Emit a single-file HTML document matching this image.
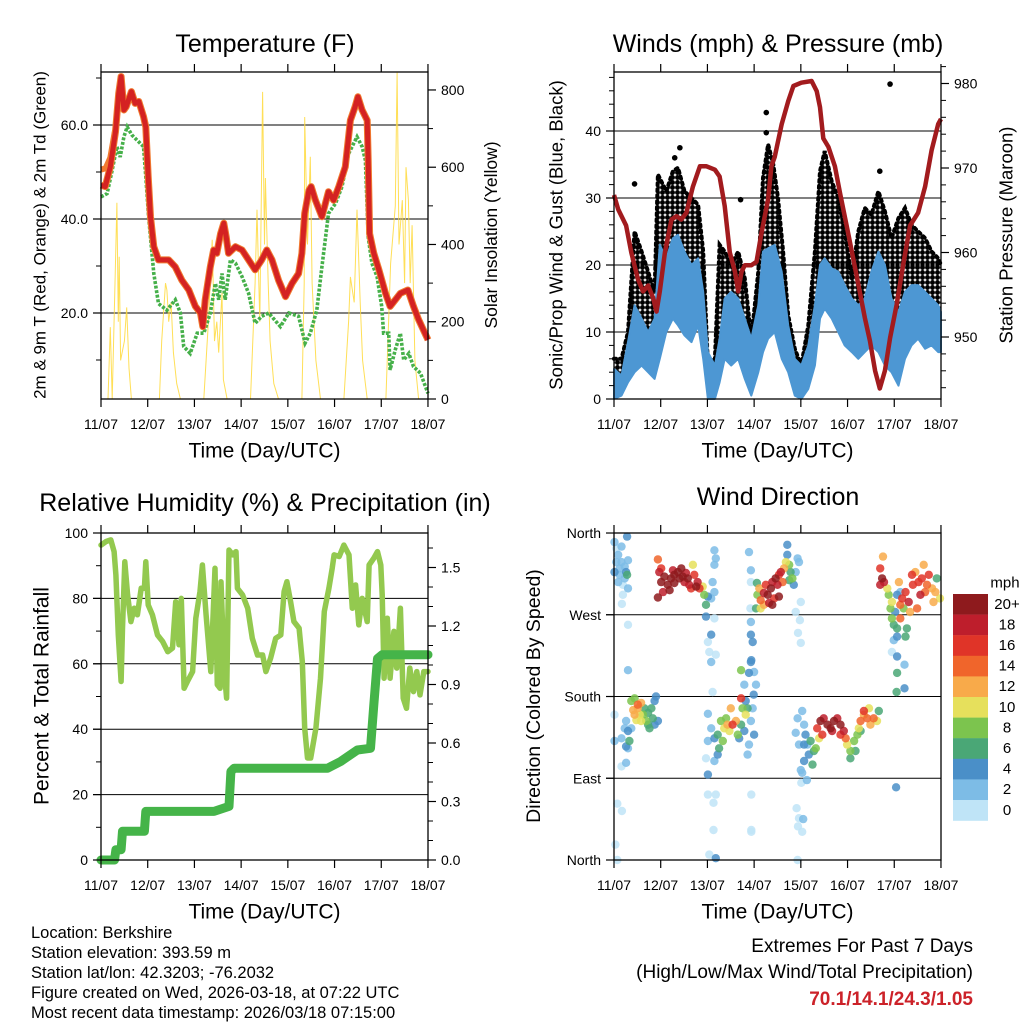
<!DOCTYPE html>
<html><head><meta charset="utf-8"><style>
html,body{margin:0;padding:0;background:#fff;}
svg{display:block;font-family:"Liberation Sans",Arial,sans-serif;}
</style></head><body>
<svg id="root" width="1024" height="1024" viewBox="0 0 1024 1024" xmlns="http://www.w3.org/2000/svg">
<defs>
<pattern id="gustdots" x="0" y="0" width="5" height="5" patternUnits="userSpaceOnUse">
<circle cx="2.5" cy="2.5" r="2.45" fill="#000"/>
</pattern>
</defs>
<g id="p1"></g>
<g id="p2"></g>
<g id="p3"></g>
<g id="p4"></g>
<g font-size="16.5" fill="#000">
<text x="31" y="938">Location: Berkshire</text>
<text x="31" y="958">Station elevation: 393.59 m</text>
<text x="31" y="978">Station lat/lon: 42.3203; -76.2032</text>
<text x="31" y="998">Figure created on Wed, 2026-03-18, at 07:22 UTC</text>
<text x="31" y="1018">Most recent data timestamp: 2026/03/18 07:15:00</text>
</g>
<g font-size="19" text-anchor="end">
<text x="973" y="952">Extremes For Past 7 Days</text>
<text x="973" y="978">(High/Low/Max Wind/Total Precipitation)</text>
<text x="973" y="1005" font-weight="bold" fill="#cc2229">70.1/14.1/24.3/1.05</text>
</g>
</svg>
<script>
// ---------- DATA ----------
const dayLabels = ["11/07","12/07","13/07","14/07","15/07","16/07","17/07","18/07"];
const tempTimes = [0,0.09,0.2,0.31,0.38,0.43,0.49,0.54,0.65,0.73,0.81,0.91,0.96,1.01,1.06,1.13,1.23,1.45,1.59,1.73,1.88,2.02,2.13,2.18,2.23,2.34,2.41,2.48,2.56,2.63,2.68,2.73,2.88,3.02,3.16,3.3,3.44,3.55,3.66,3.8,3.95,4.09,4.23,4.3,4.36,4.45,4.5,4.59,4.73,4.87,4.98,5.09,5.23,5.34,5.44,5.5,5.59,5.7,5.72,5.75,5.84,5.95,6.09,6.19,6.3,6.41,6.57,6.69,6.8,7.0];
const tempValues = [47.2,46.9,51.1,58.6,66.7,70.3,63.2,63.9,67.1,64.6,65.0,61.8,59.6,49.0,40.5,34.1,31.3,31.3,29.8,27.0,24.9,21.4,20.0,17.1,22.8,29.8,33.4,32.7,36.9,39.1,36.2,32.7,34.1,33.4,31.3,29.2,31.3,33.4,31.3,27.0,23.5,26.3,28.4,32.7,41.2,46.1,46.9,44.0,40.5,45.8,44.0,46.9,51.1,61.0,63.9,66.0,63.2,61.0,52.5,36.9,32.7,29.2,24.2,21.4,22.8,24.2,24.9,21.4,18.6,14.3];
const temp9Times = [0,0.1,0.2,0.3];
const temp9Values = [50.5,50.8,53,58.8];
const tdTimes = [0,0.13,0.24,0.34,0.41,0.49,0.56,0.66,0.81,0.91,0.96,1.02,1.13,1.23,1.41,1.59,1.7,1.77,1.91,2.06,2.2,2.34,2.45,2.52,2.59,2.66,2.77,2.88,3.02,3.16,3.3,3.44,3.59,3.84,4.02,4.23,4.37,4.48,4.62,4.73,4.87,5.02,5.16,5.3,5.48,5.59,5.66,5.72,5.8,5.91,6.01,6.05,6.16,6.19,6.3,6.41,6.48,6.59,6.69,6.84,7.0];
const tdValues = [44.7,45.4,50.4,55.4,53.2,57.5,59.6,57.9,56.4,55.4,49.0,40.5,28.4,22.0,20.6,22.8,20.0,12.9,11.4,15.7,15.7,20.0,26.3,22.8,28.4,22.8,31.3,30.6,27.7,24.2,17.8,19.3,20.0,17.1,20.0,19.3,13.6,15.7,20.6,29.8,41.2,43.3,46.9,53.9,57.5,55.4,52.5,36.2,30.6,27.7,21.4,15.7,15.7,7.9,12.2,15.7,10.0,11.4,8.6,7.2,2.9];
const solarTimes = [0,0.15,0.2,0.24,0.3,0.34,0.37,0.39,0.42,0.5,0.55,0.6,0.65,1.25,1.3,1.38,1.41,1.45,1.5,1.55,1.62,1.7,2.2,2.3,2.38,2.43,2.48,2.52,2.59,2.62,2.7,3.2,3.3,3.34,3.4,3.46,3.5,3.52,3.58,3.62,3.7,3.8,4.3,4.35,4.36,4.42,4.48,4.52,4.6,4.7,5.2,5.3,5.34,5.42,5.48,5.55,5.6,5.7,6.1,6.2,6.3,6.34,6.38,6.45,6.5,6.53,6.58,6.62,6.66,6.72,6.8,7.0];
const solarValues = [0,0,186,0,300,508,200,368,100,150,237,80,0,0,150,300,282,200,250,120,40,0,0,200,412,150,200,120,275,50,0,0,300,490,200,795,400,572,300,150,40,0,0,300,730,400,627,300,100,0,0,200,316,250,490,250,100,0,0,350,500,845,400,515,300,600,515,300,450,100,0,0];
const windTimes = [0,0.16,0.3,0.44,0.59,0.73,0.87,0.98,1.12,1.26,1.37,1.51,1.66,1.8,1.91,2.01,2.16,2.26,2.37,2.51,2.66,2.8,2.94,3.09,3.19,3.3,3.44,3.59,3.73,3.87,4.01,4.16,4.3,4.41,4.51,4.66,4.8,4.94,5.09,5.23,5.37,5.51,5.66,5.8,5.94,6.09,6.23,6.37,6.51,6.66,6.8,6.94,7];
const windLow = [0,0.5,2.5,4,5,4,3,6,10,12,11,9.5,8.5,11,6,0,0,2.5,6,5,6,3,0.5,4,7,9,10,6,4,0.5,0,1.5,5,12,13.5,12,10,8,7,6,7,8,7,5,4,2,6,8,9,7.5,8,7,7];
const windHigh = [4.5,3.5,8.5,14,12,10,12,23,21,24,24.5,22,20,21,16,7,5,9,15,16,15,12,9,14,22,22.5,23,19,11,6,5,8,14,20,21,19.5,19,17,15,14,15,19,22,20,15,13,16,17,17,16,15,14,13];
const gustTimes = [0,0.16,0.3,0.44,0.59,0.73,0.87,0.94,1.12,1.26,1.37,1.51,1.66,1.8,1.91,2.01,2.16,2.26,2.37,2.51,2.66,2.8,2.94,3.09,3.19,3.3,3.41,3.51,3.62,3.73,3.87,4.01,4.16,4.3,4.41,4.51,4.66,4.8,4.94,5.09,5.23,5.37,5.51,5.66,5.8,5.94,6.09,6.23,6.37,6.51,6.66,6.8,6.94,7];
const gustHigh = [6,6,10,25,22,19,16,33.5,31,34,34.5,31,30,29,22,5,6,23,22,20,22,18,9,19,33,38,35,30,22,12.5,7.5,5,11,22,34,37,32.5,30,25,18,25,28.5,27.5,31,28,24,27,28.5,26,25,24,22,21,20];
const gustOutlierTimes = [3.26,3.26,5.91,5.69,2.71,0.44,1.41,1.30];
const gustOutlierValues = [42.75,39.75,47,34,29.75,32.1,37.5,36];
const presTimes = [0,0.09,0.26,0.37,0.51,0.62,0.73,0.84,0.91,0.98,1.09,1.23,1.34,1.44,1.55,1.69,1.84,1.98,2.16,2.26,2.37,2.48,2.59,2.66,2.73,2.8,2.94,3.05,3.16,3.3,3.37,3.44,3.59,3.73,3.84,4.01,4.23,4.34,4.41,4.48,4.59,4.73,4.84,4.98,5.12,5.26,5.37,5.48,5.59,5.69,5.8,5.91,6.05,6.19,6.34,6.51,6.66,6.8,6.94,7];
const presValues = [966.8,965.1,963.2,960.0,956.9,955.4,956.1,954.6,953.0,955.4,960.0,963.9,964.3,963.9,964.7,967.8,970.2,970.2,969.8,969.0,965.5,960.0,957.7,955.4,957.7,958.5,958.5,958.9,962.4,966.3,970.2,971.3,975.2,977.9,979.7,980.1,980.3,979.1,977.2,973.5,972.5,970.2,967.0,963.2,959.3,955.4,952.3,949.5,946.0,943.9,946.0,949.9,953.8,958.5,963.2,964.7,967.8,972.1,975.2,975.8];
const rhTimes = [0,0.11,0.21,0.28,0.32,0.37,0.43,0.46,0.51,0.57,0.64,0.71,0.78,0.86,0.93,0.96,1.01,1.1,1.21,1.32,1.43,1.53,1.6,1.67,1.72,1.78,1.85,1.96,2.03,2.12,2.17,2.25,2.35,2.44,2.49,2.55,2.57,2.64,2.69,2.74,2.82,2.89,2.92,3.03,3.14,3.24,3.35,3.46,3.53,3.63,3.74,3.85,3.92,3.98,4.06,4.13,4.24,4.31,4.36,4.42,4.49,4.6,4.7,4.78,4.88,4.95,4.99,5.1,5.2,5.31,5.38,5.45,5.52,5.59,5.7,5.74,5.84,5.92,5.99,6.02,6.06,6.13,6.19,6.27,6.33,6.41,6.47,6.54,6.61,6.69,6.76,6.83,6.91,7.0];
const rhValues = [96.3,97.4,97.9,94.3,87.2,68.8,54.6,70.9,91.2,81.1,72.9,77,75,83.1,83.1,91.2,78,75,68.8,66.8,63.7,64.8,79,65.8,80,52.5,54.6,57.6,73.9,82.1,90.2,74.9,57.6,89.2,53.6,52.5,85.1,57.6,49.5,94.8,93.3,94.3,83.1,81.1,77,67.8,62.7,62.7,57.6,61.7,67.8,68.8,82.1,85.1,79,72.9,70.9,60.7,40.3,31.2,31.2,40.3,55.6,76,83.1,89.2,93.3,92.8,96.3,93.3,77,84.1,71.9,80,72.9,90.2,92.3,94.3,90.2,81.1,55.6,73.9,55.6,69.9,58.7,77,49.5,46.4,58.7,51.5,57.6,50.5,57.6,57.6];
const precipTimes = [0,0.29,0.32,0.43,0.46,0.93,0.96,2.42,2.74,2.78,2.85,4.85,5.13,5.49,5.77,5.84,5.92,6.02,7.0];
const precipValues = [0,0,0.053,0.053,0.147,0.147,0.249,0.249,0.275,0.454,0.471,0.471,0.505,0.564,0.573,0.795,1.033,1.053,1.053];
const dirObs = [
[0.01,350,2],[0.05,343,1],[0.09,336,3],[0.16,328,2],[0.01,317,4],[0.12,314,3],[0.23,310,2],[0.19,303,1],[0.3,299,2],[0.26,317,4],[0.3,330,2],[0.28,356,4],[0.16,345,3],[0.09,306,2],[0.19,292,1],[0.17,282,1],[0.28,314,6],[0.05,328,3],[0.23,323,3],[0.12,321,2],
[0.3,259,1],[0.3,209,2],[0.01,160,1],[0.26,153,3],[0.16,134,2],[0.26,107,3],[0.16,103,1],[0.07,62,1],[0.17,54,1],[0.03,17,1],[0.07,0,1],[0.01,131,2],
[0.37,175,8],[0.44,178,9],[0.51,171,14],[0.41,165,12],[0.58,173,12],[0.55,160,11],[0.48,154,10],[0.65,167,7],[0.73,162,6],[0.8,167,6],[0.87,175,5],[0.9,180,4],[0.94,153,5],[0.76,145,6],[0.69,153,8],[0.58,153,10],[0.51,167,13],[0.62,160,9],[0.83,156,6],[0.44,160,12],[0.37,145,3],[0.3,142,4],[0.33,131,6],[0.26,125,4],[0.23,145,3],[0.3,123,3],[0.73,149,7],[0.87,149,4],
[0.94,331,14],[0.97,317,18],[1.01,306,20],[1.08,312,20],[1.15,303,20],[1.22,310,20],[1.29,314,20],[1.37,317,20],[1.4,310,20],[1.47,312,20],[1.51,306,18],[1.58,310,20],[1.61,303,18],[1.69,325,10],[1.72,314,16],[1.79,306,18],[1.83,299,16],[1.9,301,10],[1.93,292,8],[0.94,289,20],[1.05,295,18],[1.19,297,20],[1.29,305,20],[1.44,321,20],[1.54,316,18],[1.65,299,16],[1.76,301,20],[1.01,321,16],[1.26,319,18],
[1.97,281,6],[1.97,268,4],[2.01,290,5],[2.15,341,3],[2.18,332,2],[2.15,325,2],[2.11,306,3],[2.15,295,2],[2.08,288,3],[2.15,266,1],[2.08,248,4],[2.01,240,1],[2.04,229,1],[2.18,226,1],[2.08,218,2],[2.11,185,1],[2.01,161,3],[2.08,145,3],[2.01,131,2],[1.97,112,1],[2.01,94,4],[2.01,72,1],[2.18,72,1],[2.13,63,1],[2.13,33,1],[2.04,6,1],[2.18,2,4],
[2.15,134,4],[2.22,138,6],[2.29,153,8],[2.36,145,10],[2.43,149,12],[2.54,149,16],[2.61,153,12],[2.65,138,8],[2.5,167,12],[2.47,142,10],[2.33,131,8],[2.25,123,6],[2.4,156,9],[2.72,178,16],[2.75,167,8],[2.72,149,6],[2.68,134,4],[2.79,142,4],[2.82,160,10],[2.86,167,6],[2.93,153,3],[2.89,127,2],[2.86,116,2],[3.0,138,4],[2.22,116,4],[2.15,109,2],[2.72,209,8],[2.79,193,3],[2.82,175,4],[2.89,206,4],[2.93,218,4],[2.94,220,4],[3.0,207,3],[3.04,193,3],[2.99,182,4],[2.97,167,3],[2.93,248,4],[2.97,240,4],[2.93,262,2],[2.92,277,1],[2.89,339,2],[2.93,319,2],[2.93,306,1],[2.94,72,1],[2.94,33,1],[2.94,31,1],
[3.04,277,6],[3.07,292,8],[3.11,299,12],[3.14,286,14],[3.21,294,18],[3.25,303,16],[3.29,292,20],[3.32,283,18],[3.36,299,20],[3.39,306,18],[3.46,310,20],[3.5,303,18],[3.53,314,16],[3.57,317,18],[3.43,288,16],[3.14,277,10],[3.21,281,12],[3.53,290,20],[3.64,321,12],[3.68,328,10],[3.71,336,4],[3.75,325,8],[3.78,317,6],[3.82,310,8],[3.85,303,4],[3.89,317,3],[3.96,328,2],[3.93,332,3],[3.71,347,4],[3.75,308,6],[3.06,305,6],[3.61,306,14],[3.39,281,20],
[4.0,284,1],[3.89,273,1],[3.98,264,1],[3.94,250,1],[4.0,239,1],
[3.93,156,2],[4.03,164,2],[4.07,149,2],[4.1,138,4],[4.14,127,3],[4.17,116,4],[4.07,109,4],[4.0,99,2],[4.13,88,3],[4.03,96,2],[4.01,85,1],[3.89,140,3],[3.96,127,2],[4.21,131,6],[4.28,120,7],[4.25,105,6],[4.07,127,4],
[3.91,57,1],[3.96,46,1],[4.05,45,3],[3.94,37,1],[4.03,31,1],[3.93,0,1],
[4.35,145,16],[4.42,153,20],[4.49,156,18],[4.57,149,20],[4.64,145,20],[4.71,153,20],[4.78,156,18],[4.85,149,20],[4.92,142,18],[4.96,134,14],[4.99,127,10],[5.06,120,8],[5.14,131,8],[5.21,138,9],[5.24,145,10],[5.28,153,14],[5.35,160,12],[5.42,156,14],[5.49,149,12],[5.56,156,14],[5.63,153,10],[5.67,164,6],[5.46,167,10],[5.35,164,16],[4.46,138,16],[4.39,134,10],[4.32,123,8],[4.85,138,16],[5.17,120,6],[5.28,142,6],[5.06,112,6],[4.67,142,18],
[5.76,334,12],[5.7,321,16],[5.74,310,20],[5.7,303,18],[5.78,306,18],[5.85,299,10],[5.88,292,8],[5.95,284,10],[5.92,277,8],[5.95,266,8],[5.99,259,6],[6.06,255,6],[6.13,266,14],[6.13,281,14],[6.17,288,16],[6.24,295,16],[6.31,284,18],[6.34,273,12],[6.38,314,16],[6.45,317,12],[6.52,306,16],[6.59,310,16],[6.63,325,12],[6.7,303,14],[6.74,314,16],[6.81,299,12],[6.88,295,12],[6.91,310,6],[6.98,288,10],[6.84,284,12],[6.2,277,8],[6.06,292,4],[6.02,273,4],[6.27,255,6],[6.24,246,6],[6.06,246,4],[5.99,242,2],[6.1,306,12],[6.13,295,3],[5.95,229,1],[6.06,224,4],[6.22,215,2],[6.06,206,6],[6.05,185,6],[6.22,189,4],[6.04,80,4],[6.56,292,18],[6.66,295,14],[6.49,277,14],[6.4,303,16]
];
const speedBinLabels = ["0","2","4","6","8","10","12","14","16","18","20+"];
const speedColors = ["#bfe4f7","#7dbce6","#4a8fc8","#4aa776","#7cc44e","#e6e05c","#f8aa4a","#f0652b","#e03428","#be1e2c","#8e1a1d"];

// ---------- HELPERS ----------
const NS = "http://www.w3.org/2000/svg";
function el(tag, attrs, parent) {
  const e = document.createElementNS(NS, tag);
  for (const k in attrs) e.setAttribute(k, attrs[k]);
  if (parent) parent.appendChild(e);
  return e;
}
function txt(parent, x, y, s, size, anchor, extra) {
  const t = el("text", Object.assign({x: x, y: y, "font-size": size, "text-anchor": anchor || "middle", "dominant-baseline": "central"}, extra || {}), parent);
  t.textContent = s;
  return t;
}
const DAYW = 46.71;
const TICKFS = 14;
function frame(g, L, T, R, B) {
  const r = el("rect", {x: L, y: T, width: R - L, height: B - T, fill: "none", stroke: "#000", "stroke-width": 1.3}, g);
  
  
}
function xAxis(g, L, T, B, labelY) {
  for (let i = 0; i < dayLabels.length; i++) {
    const x = L + i * DAYW;
    el("line", {x1: x, y1: B, x2: x, y2: B + 8, stroke: "#000", "stroke-width": 1.2}, g);
    el("line", {x1: x, y1: T, x2: x, y2: T - 8, stroke: "#000", "stroke-width": 1.2}, g);
    const t = txt(g, x, labelY, dayLabels[i], TICKFS);
    
    
  }
  const tt = txt(g, L + 3.5 * DAYW, labelY + 27, "Time (Day/UTC)", 21);
  
  
}
function grid(g, L, R, y) {
  el("line", {x1: L - 8, y1: y, x2: R, y2: y, stroke: "#000", "stroke-width": 1}, g);
}
function leftTicks(g, L, ys, labels, minors) {
  ys.forEach((y, i) => {
    el("line", {x1: L, y1: y, x2: L - 8, y2: y, stroke: "#000", "stroke-width": 1.2}, g);
    if (labels) {
      const t = txt(g, L - 13, y, labels[i], TICKFS, "end");
      
      
    }
  });
  (minors || []).forEach(y => el("line", {x1: L, y1: y, x2: L - 5, y2: y, stroke: "#000", "stroke-width": 1}, g));
}
function rightTicks(g, R, ys, labels, minors) {
  ys.forEach((y, i) => {
    el("line", {x1: R, y1: y, x2: R + 8, y2: y, stroke: "#000", "stroke-width": 1.2}, g);
    const t = txt(g, R + 13, y, labels[i], TICKFS, "start");
    
    
  });
  (minors || []).forEach(y => el("line", {x1: R, y1: y, x2: R + 5, y2: y, stroke: "#000", "stroke-width": 1}, g));
}
function vtitle(g, x, y, s, size, name) {
  const t = txt(g, x, y, s, size, "middle", {transform: "rotate(-90 " + x + " " + y + ")"});
  
  
}
function linePath(times, vals, X, Y) {
  return times.map((t, i) => (i ? "L" : "M") + X(t).toFixed(1) + " " + Y(vals[i]).toFixed(1)).join(" ");
}

// ---------- PANEL 1 ----------
(function () {
  const g = document.getElementById("p1");
  const L = 101, R = 428, T = 72, B = 399;
  const X = d => L + d * DAYW;
  const Y = v => 407 - v * 4.7;
  const YS = s => 399 - s * 0.3863;
  const t = txt(g, 265, 44, "Temperature (F)", 25);
  
  
  [20, 40, 60].forEach(v => grid(g, L, R, Y(v)));
  const solar = el("path", {d: linePath(solarTimes, solarValues, X, YS), fill: "none", stroke: "#ffd93a", "stroke-width": 1, "stroke-opacity": 0.85}, g);
  
  
  const td = el("path", {d: linePath(tdTimes, tdValues, X, Y), fill: "none", stroke: "#46b04a", "stroke-width": 3.6, "stroke-dasharray": "3 1.6"}, g);
  
  
  const t9 = el("path", {d: linePath(tempTimes, tempValues, X, Y), fill: "none", stroke: "#f07a30", "stroke-width": 7, "stroke-linejoin": "round"}, g);
  
  
  const t9b = el("path", {d: linePath(temp9Times, temp9Values, X, Y), fill: "none", stroke: "#f07a30", "stroke-width": 6}, g);
  
  
  const t2 = el("path", {d: linePath(tempTimes, tempValues, X, Y), fill: "none", stroke: "#d42222", "stroke-width": 5, "stroke-linejoin": "round"}, g);
  
  
  frame(g, L, T, R, B);
  xAxis(g, L, T, B, 424);
  leftTicks(g, L, [20, 40, 60].map(Y), ["20.0", "40.0", "60.0"], [10, 30, 50, 70].map(Y));
  rightTicks(g, R, [0, 200, 400, 600, 800].map(YS), ["0", "200", "400", "600", "800"], [100, 300, 500, 700].map(YS));
  vtitle(g, 40, 235, "2m & 9m T (Red, Orange) & 2m Td (Green)", 17, "left-axis-title");
  vtitle(g, 491, 235, "Solar Insolation (Yellow)", 17.5, "right-axis-title");
})();

// ---------- PANEL 2 ----------
(function () {
  const g = document.getElementById("p2");
  const L = 614, R = 941, T = 72, B = 399;
  const X = d => L + d * DAYW;
  const Y = v => 399 - v * 6.7;
  const YP = p => 337 - (p - 950) * 8.45;
  const t = txt(g, 778, 44, "Winds (mph) & Pressure (mb)", 25);
  
  
  [10, 20, 30, 40].forEach(v => grid(g, L, R, Y(v)));
  let top = gustTimes.map((tt, i) => X(tt).toFixed(1) + "," + Y(gustHigh[i]).toFixed(1));
  let bot = windTimes.map((tt, i) => X(tt).toFixed(1) + "," + Y(windLow[i]).toFixed(1)).reverse();
  const gust = el("polygon", {points: top.concat(bot).join(" "), fill: "url(#gustdots)"}, g);
  
  
  const gustEdge = el("path", {d: linePath(gustTimes, gustHigh, X, Y), fill: "none", stroke: "#000", "stroke-width": 4, "stroke-dasharray": "2 4", "stroke-linecap": "round"}, g);
  
  
  gustOutlierTimes.forEach((tt, i) => {
    const c = el("circle", {cx: X(tt), cy: Y(gustOutlierValues[i]), r: 2.8, fill: "#000"}, g);
    
    
  });
  top = windTimes.map((tt, i) => X(tt).toFixed(1) + "," + Y(windHigh[i]).toFixed(1));
  bot = windTimes.map((tt, i) => X(tt).toFixed(1) + "," + Y(windLow[i]).toFixed(1)).reverse();
  const wind = el("polygon", {points: top.concat(bot).join(" "), fill: "#4d97d3", stroke: "#4d97d3", "stroke-width": 2, "stroke-linejoin": "round"}, g);
  
  
  const pres = el("path", {d: linePath(presTimes, presValues, X, YP), fill: "none", stroke: "#a21b1e", "stroke-width": 4.5, "stroke-linejoin": "round"}, g);
  
  
  frame(g, L, T, R, B);
  xAxis(g, L, T, B, 424);
  const minors = [];
  for (let v = 2; v <= 48; v += 2) if (v % 10) minors.push(Y(v));
  leftTicks(g, L, [0, 10, 20, 30, 40].map(Y), ["0", "10", "20", "30", "40"], minors);
  const pm = [];
  for (let p = 944; p <= 982; p += 2) if (p % 10) pm.push(YP(p));
  rightTicks(g, R, [950, 960, 970, 980].map(YP), ["950", "960", "970", "980"], pm);
  vtitle(g, 556, 235, "Sonic/Prop Wind & Gust (Blue, Black)", 18.5, "left-axis-title");
  vtitle(g, 1006, 235, "Station Pressure (Maroon)", 18.5, "right-axis-title");
})();

// ---------- PANEL 3 ----------
(function () {
  const g = document.getElementById("p3");
  const L = 101, R = 428, T = 533, B = 860;
  const X = d => L + d * DAYW;
  const Y = v => 860 - v * 3.27;
  const YR = p => 860 - p * 195;
  const t = txt(g, 265, 503, "Relative Humidity (%) & Precipitation (in)", 25);
  
  
  [20, 40, 60, 80].forEach(v => grid(g, L, R, Y(v)));
  const rh = el("path", {d: linePath(rhTimes, rhValues, X, Y), fill: "none", stroke: "#93c94f", "stroke-width": 5.5, "stroke-linejoin": "round", "stroke-linecap": "round"}, g);
  
  
  const pr = el("path", {d: linePath(precipTimes, precipValues, X, YR), fill: "none", stroke: "#45b449", "stroke-width": 9, "stroke-linejoin": "round", "stroke-linecap": "round"}, g);
  
  
  frame(g, L, T, R, B);
  xAxis(g, L, T, B, 885);
  leftTicks(g, L, [0, 20, 40, 60, 80, 100].map(Y), ["0", "20", "40", "60", "80", "100"], [10, 30, 50, 70, 90].map(Y));
  const pm = [];
  for (let p = 0.1; p < 1.67; p += 0.1) if (Math.round(p * 10) % 3) pm.push(YR(p));
  rightTicks(g, R, [0, 0.3, 0.6, 0.9, 1.2, 1.5].map(YR), ["0.0", "0.3", "0.6", "0.9", "1.2", "1.5"], pm);
  vtitle(g, 42, 696, "Percent & Total Rainfall", 21, "left-axis-title");
})();

// ---------- PANEL 4 ----------
(function () {
  const g = document.getElementById("p4");
  const L = 614, R = 941, T = 533, B = 860;
  const X = d => L + d * DAYW;
  const Y = deg => 860 - deg * 0.9083;
  const t = txt(g, 778, 497, "Wind Direction", 25);
  
  
  [90, 180, 270].forEach(v => grid(g, L, R, Y(v)));
  const pts = el("g", {}, g);
  
  
  dirObs.slice().sort((a, b) => a[2] - b[2]).forEach(o => {
    const bin = Math.min(10, Math.floor(o[2] / 2));
    const c = el("circle", {cx: X(o[0]).toFixed(1), cy: Y(o[1]).toFixed(1), r: 4.2, fill: speedColors[bin], "fill-opacity": 0.85}, pts);
    
    
  });
  frame(g, L, T, R, B);
  xAxis(g, L, T, B, 885);
  leftTicks(g, L, [0, 90, 180, 270, 360].map(Y), ["North", "East", "South", "West", "North"], []);
  vtitle(g, 534, 696, "Direction (Colored By Speed)", 19.5, "left-axis-title");
  const cb = el("g", {}, g);
  
  
  const mph = txt(cb, 1005, 583, "mph", 15);
  
  
  for (let i = 0; i < speedColors.length; i++) {
    const k = speedColors.length - 1 - i;
    const y = 594 + i * 20.6;
    const r = el("rect", {x: 953, y: y, width: 35, height: 20.8, fill: speedColors[k]}, cb);
    
    
    const lt = txt(cb, 1007, y + 10.3, speedBinLabels[k], 15);
    
    
  }
})();
</script>
</body></html>
